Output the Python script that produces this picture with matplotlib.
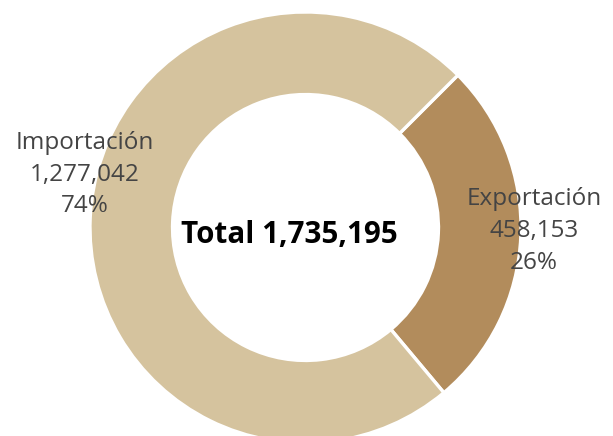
import matplotlib
matplotlib.use("Agg")
import matplotlib.pyplot as plt

plt.rcParams['font.family'] = ['Open Sans', 'DejaVu Sans']

labels = ['Exportación', 'Importación']
values = [458153, 1277042]
colors = ['#B28C5C', '#D5C39E']
total = sum(values)

fig = plt.figure(figsize=(6.13, 4.36), dpi=100)
# square axes, one data unit = outer radius (215.5 px)
ax = fig.add_axes([90 / 613, -7 / 436, 431 / 613, 431 / 436])

wedges, _ = ax.pie(values, colors=colors, startangle=45, counterclock=False,
                   radius=1.0, wedgeprops=dict(width=0.383, edgecolor='white', linewidth=2.4))
ax.set_xlim(-1, 1)
ax.set_ylim(-1, 1)
ax.set_aspect('equal')
ax.axis('off')
for w in wedges:
    w.set_clip_on(False)

pos = {'Exportación': (1.06, -0.016), 'Importación': (-1.023, 0.244)}
for lab, v in zip(labels, values):
    x, y = pos[lab]
    ax.text(x, y, f"{lab}\n{v:,}\n{v / total:.0%}", ha='center', va='center',
            fontsize=17.5, color='#444444', linespacing=1.42)

ax.text(-0.077, -0.035, f"Total {total:,}", ha='center', va='center',
        fontsize=21.3, fontweight='bold', color='black')

fig.savefig('out.png', dpi=100)
